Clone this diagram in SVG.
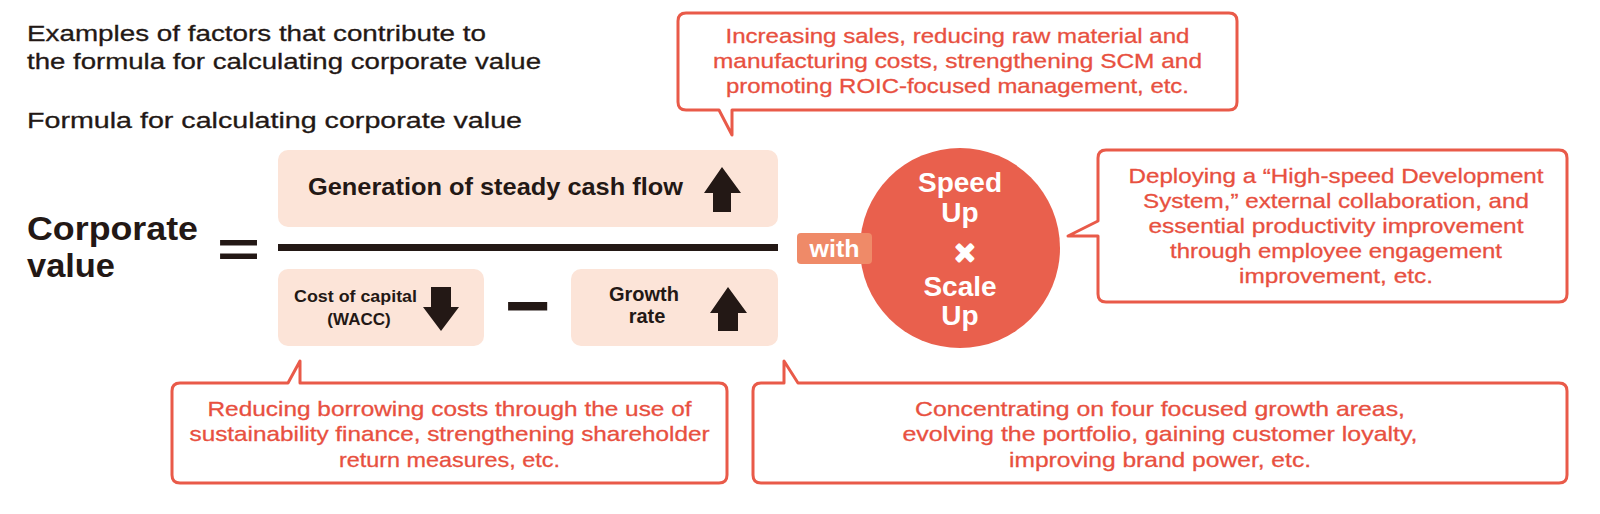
<svg xmlns="http://www.w3.org/2000/svg" width="1600" height="514" viewBox="0 0 1600 514">
  <style>
    .ttl { font-family: "Liberation Sans", Arial, sans-serif; font-size: 22px; fill: #231815; stroke: #231815; stroke-width: 0.3px; }
    .blk { font-family: "Liberation Sans", Arial, sans-serif; font-weight: bold; fill: #231815; }
    .red { font-family: "Liberation Sans", Arial, sans-serif; font-size: 21px; fill: #E8503F; stroke: #E8503F; stroke-width: 0.3px; text-anchor: middle; }
    .wht { font-family: "Liberation Sans", Arial, sans-serif; font-weight: bold; fill: #FFFFFF; text-anchor: middle; }
    .box { fill: #FCE4D8; }
    .callout { fill: #FFFFFF; stroke: #E95A49; stroke-width: 3; stroke-linejoin: round; }
    .arrow { fill: #231815; }
  </style>

  <g id="titles">
    <text class="ttl" x="27" y="41" textLength="459" lengthAdjust="spacingAndGlyphs">Examples of factors that contribute to</text>
    <text class="ttl" x="27" y="69" textLength="514" lengthAdjust="spacingAndGlyphs">the formula for calculating corporate value</text>
    <text class="ttl" x="27" y="128" textLength="495" lengthAdjust="spacingAndGlyphs">Formula for calculating corporate value</text>
  </g>

  <g id="corporate-value">
    <text class="blk" x="27" y="240" font-size="33" textLength="171" lengthAdjust="spacingAndGlyphs">Corporate</text>
    <text class="blk" x="27" y="277" font-size="33" textLength="88" lengthAdjust="spacingAndGlyphs">value</text>
  </g>

  <g id="equals">
    <text class="blk" x="217" y="267" font-size="50" textLength="43" lengthAdjust="spacingAndGlyphs">=</text>
  </g>

  <g id="numerator">
    <rect class="box" x="278" y="150" width="500" height="77" rx="10"/>
    <text class="blk" x="308" y="195" font-size="24" textLength="375" lengthAdjust="spacingAndGlyphs">Generation of steady cash flow</text>
    <polygon class="arrow" points="722,167 741,193 731,193 731,212 713,212 713,193 704,193"/>
  </g>

  <g id="fraction-bar">
    <rect x="278" y="244" width="500" height="7" fill="#231815"/>
  </g>

  <g id="cost-of-capital">
    <rect class="box" x="278" y="269" width="206" height="77" rx="10"/>
    <text class="blk" x="294" y="302" font-size="17" textLength="123" lengthAdjust="spacingAndGlyphs">Cost of capital</text>
    <text class="blk" x="359" y="325" font-size="17" text-anchor="middle">(WACC)</text>
    <polygon class="arrow" points="441,331 459,307 451,307 451,287 431,287 431,307 423,307"/>
  </g>

  <g id="minus">
    <text class="blk" x="505" y="332" font-size="78">−</text>
  </g>

  <g id="growth-rate">
    <rect class="box" x="571" y="269" width="207" height="77" rx="10"/>
    <text class="blk" x="644" y="301" font-size="20" text-anchor="middle">Growth</text>
    <text class="blk" x="647" y="323" font-size="20" text-anchor="middle">rate</text>
    <polygon class="arrow" points="728,287 747,313 738,313 738,331 718,331 718,313 710,313"/>
  </g>

  <g id="speed-scale">
    <circle cx="960" cy="248" r="100" fill="#E9604D"/>
    <text class="wht" x="960" y="192" font-size="28">Speed</text>
    <text class="wht" x="960" y="222" font-size="28">Up</text>
    <text class="wht" x="965" y="263.5" font-size="33" stroke="#FFFFFF" stroke-width="2.5" stroke-linejoin="round">×</text>
    <text class="wht" x="960" y="296" font-size="28">Scale</text>
    <text class="wht" x="960" y="325" font-size="28">Up</text>
  </g>

  <g id="with">
    <rect x="797" y="233" width="75" height="31" rx="4" fill="#EF8A68"/>
    <text class="wht" x="834.5" y="257" font-size="24" textLength="50" lengthAdjust="spacingAndGlyphs">with</text>
  </g>

  <g id="connectors">
    <path class="callout" d="M686,13 H1229 Q1237,13 1237,21 V102 Q1237,110 1229,110 H732 V135 L719,110 H686 Q678,110 678,102 V21 Q678,13 686,13 Z"/>
    <path class="callout" d="M1106,150 H1559 Q1567,150 1567,158 V294 Q1567,302 1559,302 H1106 Q1098,302 1098,294 V236 H1068 L1098,221 V158 Q1098,150 1106,150 Z"/>
    <path class="callout" d="M180,383 H288 L300,361 V383 H719 Q727,383 727,391 V475 Q727,483 719,483 H180 Q172,483 172,475 V391 Q172,383 180,383 Z"/>
    <path class="callout" d="M761,383 H784 V361 L798,383 H1559 Q1567,383 1567,391 V475 Q1567,483 1559,483 H761 Q753,483 753,475 V391 Q753,383 761,383 Z"/>
  </g>

  <g id="callout-top">
    <text class="red" x="957.5" y="43" textLength="464" lengthAdjust="spacingAndGlyphs">Increasing sales, reducing raw material and</text>
    <text class="red" x="957.5" y="68" textLength="489" lengthAdjust="spacingAndGlyphs">manufacturing costs, strengthening SCM and</text>
    <text class="red" x="957.5" y="93" textLength="463" lengthAdjust="spacingAndGlyphs">promoting ROIC-focused management, etc.</text>
  </g>

  <g id="callout-right">
    <text class="red" x="1336" y="183" textLength="415" lengthAdjust="spacingAndGlyphs">Deploying a “High-speed Development</text>
    <text class="red" x="1336" y="208" textLength="386" lengthAdjust="spacingAndGlyphs">System,” external collaboration, and</text>
    <text class="red" x="1336" y="233" textLength="375" lengthAdjust="spacingAndGlyphs">essential productivity improvement</text>
    <text class="red" x="1336" y="258" textLength="332" lengthAdjust="spacingAndGlyphs">through employee engagement</text>
    <text class="red" x="1336" y="283" textLength="194" lengthAdjust="spacingAndGlyphs">improvement, etc.</text>
  </g>

  <g id="callout-bottom-left">
    <text class="red" x="449.5" y="416" textLength="484" lengthAdjust="spacingAndGlyphs">Reducing borrowing costs through the use of</text>
    <text class="red" x="449.5" y="441" textLength="520" lengthAdjust="spacingAndGlyphs">sustainability finance, strengthening shareholder</text>
    <text class="red" x="449.5" y="467" textLength="221" lengthAdjust="spacingAndGlyphs">return measures, etc.</text>
  </g>

  <g id="callout-bottom-right">
    <text class="red" x="1160" y="416" textLength="490" lengthAdjust="spacingAndGlyphs">Concentrating on four focused growth areas,</text>
    <text class="red" x="1160" y="441" textLength="515" lengthAdjust="spacingAndGlyphs">evolving the portfolio, gaining customer loyalty,</text>
    <text class="red" x="1160" y="467" textLength="302" lengthAdjust="spacingAndGlyphs">improving brand power, etc.</text>
  </g>
</svg>
